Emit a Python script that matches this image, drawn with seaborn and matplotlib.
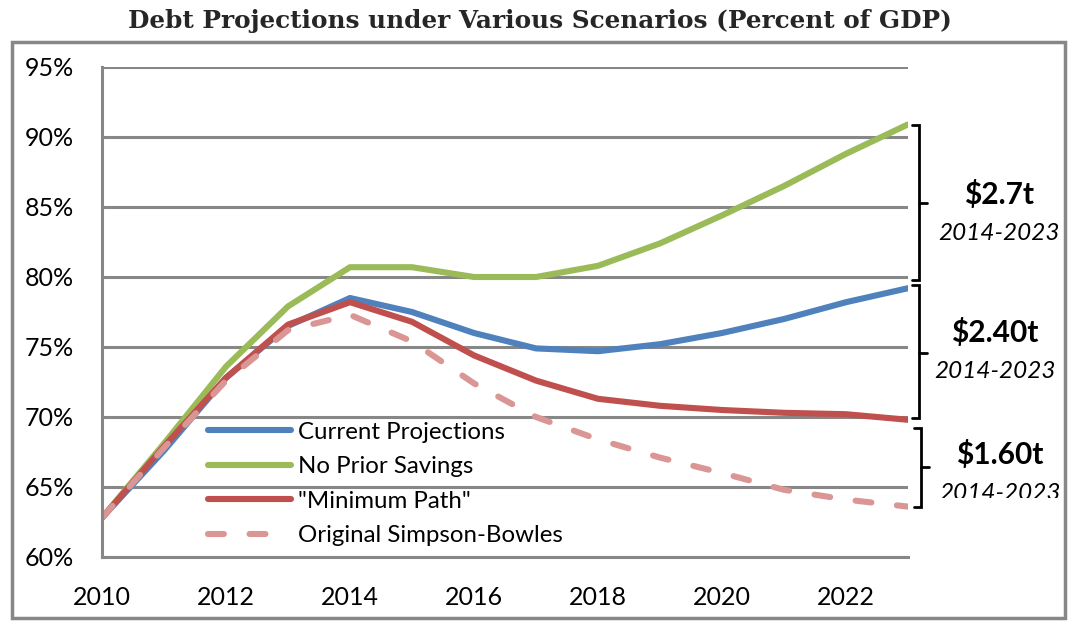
import matplotlib
matplotlib.use("Agg")
import matplotlib.pyplot as plt
import seaborn as sns
import pandas as pd
from matplotlib.patches import Rectangle
from matplotlib.transforms import Bbox, TransformedBbox
from matplotlib.ticker import FuncFormatter, MultipleLocator

years = list(range(2010, 2024))
current = [62.8, 67.6, 72.8, 76.5, 78.5, 77.5, 76.0, 74.9, 74.7, 75.2, 76.0, 77.0, 78.2, 79.2]
no_prior = [62.8, 68.1, 73.6, 77.9, 80.7, 80.7, 80.0, 80.0, 80.8, 82.4, 84.4, 86.5, 88.8, 90.9]
min_path = [62.8, 67.9, 72.8, 76.6, 78.2, 76.8, 74.4, 72.6, 71.3, 70.8, 70.5, 70.3, 70.2, 69.8]
simpson = [62.8, 67.8, 72.6, 76.2, 77.3, 75.4, 72.4, 70.0, 68.4, 67.1, 66.0, 64.8, 64.1, 63.6]
labels = ["Current Projections", "No Prior Savings", "\"Minimum Path\"", "Original Simpson-Bowles"]
colors = ["#4F81BD", "#9BBB59", "#C0504D", "#D99694"]
title = "Debt Projections under Various Scenarios (Percent of GDP)"
notes = [("$2.7t", "2014-2023"), ("$2.40t", "2014-2023"), ("$1.60t", "2014-2023")]

sns.set_theme(style="white")
plt.rcParams['font.family'] = ['Lato', 'DejaVu Sans']

W, H = 1079, 633
fig = plt.figure(figsize=(W / 100, H / 100), dpi=100)
ax = fig.add_axes([102 / W, 1 - 557 / H, (908 - 102) / W, (557 - 67) / H])

GRAY = "#878787"
series = [current, no_prior, min_path, simpson]
for i, (vals, lab, col) in enumerate(zip(series, labels, colors)):
    df = pd.DataFrame({"year": years, "value": vals})
    sns.lineplot(data=df, x="year", y="value", ax=ax, color=col, label=lab,
                 linewidth=4.4, solid_capstyle="round")
line_dashed = ax.get_lines()[3]
line_dashed.set_linestyle((0, (2.6, 4.2)))
line_dashed.set_dash_capstyle("round")

ax.set_xlim(2010, 2023)
ax.set_ylim(60, 95)
ax.xaxis.set_major_locator(MultipleLocator(1))
ax.yaxis.set_major_locator(MultipleLocator(5))
ax.xaxis.set_major_formatter(FuncFormatter(lambda v, p: f"{int(round(v))}" if int(round(v)) % 2 == 0 else ""))
ax.yaxis.set_major_formatter(FuncFormatter(lambda v, p: f"{int(round(v))}%"))
ax.grid(axis="y", color=GRAY, linewidth=2.2)
ax.grid(axis="x", visible=False)
ax.set_axisbelow(True)
for s in ["top", "right"]:
    ax.spines[s].set_visible(False)
for s in ["left", "bottom"]:
    ax.spines[s].set_color(GRAY)
    ax.spines[s].set_linewidth(2.2)
ax.tick_params(axis="both", which="major", direction="out", length=7, width=2.2,
               color=GRAY, labelsize=18, labelcolor="black")
ax.tick_params(axis="x", pad=14)
ax.tick_params(axis="y", pad=13)
ax.set_xlabel("")
ax.set_ylabel("")

leg = ax.legend(loc="upper left", bbox_to_anchor=(0.132, 0.276), frameon=False,
                fontsize=17.3, handlelength=3.45, handletextpad=0.3, labelspacing=0.56,
                borderaxespad=0, borderpad=0)
for t in leg.get_texts():
    t.set_color("black")

fig.suptitle(title, x=0.5, y=1 - 21 / H, va="center", fontsize=17.8,
             fontweight="bold", family=["DejaVu Serif"])

# outer frame
fig.patches.append(Rectangle((12 / W, 1 - 618 / H), (1065 - 12) / W, (618 - 42) / H,
                             transform=fig.transFigure, fill=False, edgecolor=GRAY,
                             linewidth=2.5))


def fx(px):
    return px / W


def fy(py):
    return 1 - py / H


brackets = [(125, 280, 203, 919), (285, 418, 353, 919), (428, 507, 467, 921)]
for top, bot, mid, xv in brackets:
    xs = [fx(xv - 7), fx(xv), fx(xv), fx(xv - 7)]
    ys = [fy(top), fy(top), fy(bot), fy(bot)]
    fig.add_artist(plt.Line2D(xs, ys, transform=fig.transFigure, color="black",
                              linewidth=2.0, solid_joinstyle="miter"))
    fig.add_artist(plt.Line2D([fx(xv), fx(xv + 8)], [fy(mid), fy(mid)],
                              transform=fig.transFigure, color="black", linewidth=2.0))

note_pos = [(999, 195, 233), (995, 332, 372), (1000, 455, 493)]
clip = TransformedBbox(Bbox([[0, 1 - 498 / H], [1, 1]]), fig.transFigure)
for (big, small), (cx, y1, y2) in zip(notes, note_pos):
    fig.text(fx(cx), fy(y1), big, ha="center", va="center", fontsize=21.5,
             fontweight="bold", color="black")
    t = fig.text(fx(cx), fy(y2), small, ha="center", va="center", fontsize=17.5,
                 style="italic", color="black")
    t.set_clip_box(clip)
    t.set_clip_on(True)

fig.savefig("out.png", dpi=100, facecolor="white")
